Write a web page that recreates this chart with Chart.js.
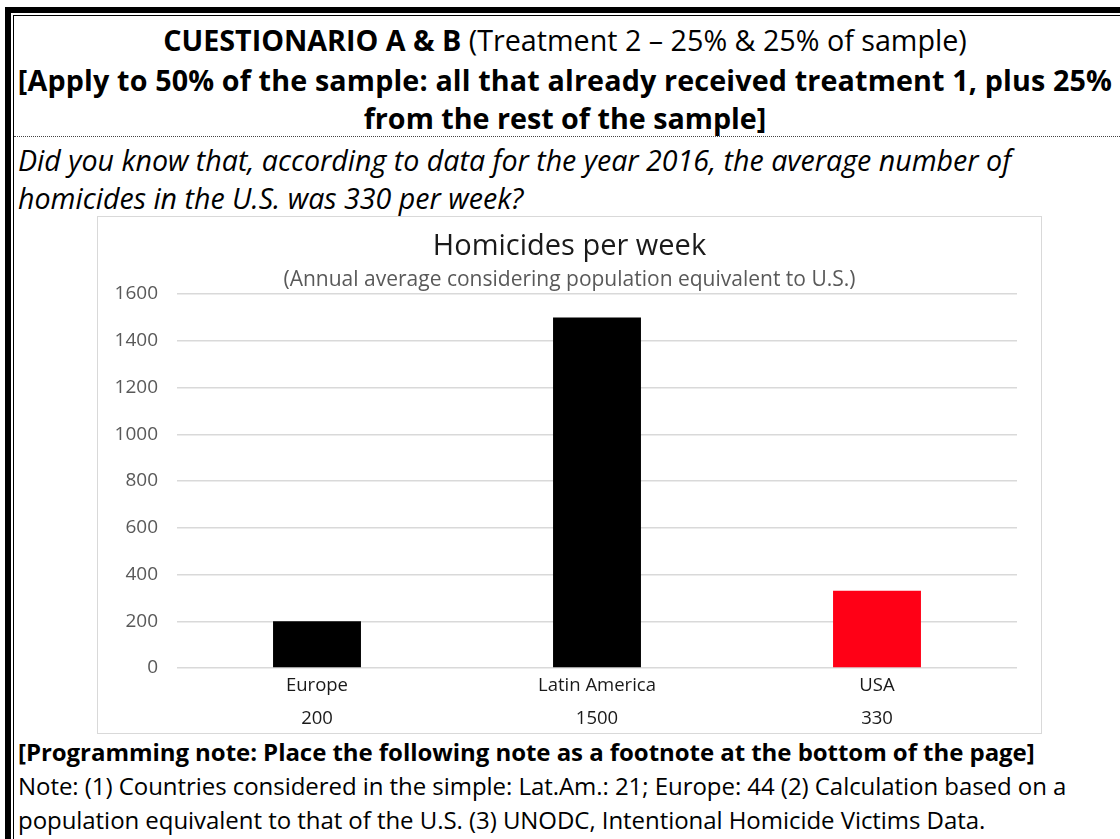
<!DOCTYPE html>
<html>
<head>
<meta charset="utf-8">
<title>Homicides per week</title>
<script src="https://cdn.jsdelivr.net/npm/chart.js@4.4.1/dist/chart.umd.min.js"></script>
<style>
    html, body {
        margin: 0;
        padding: 0;
        background: #ffffff;
        width: 1120px;
        height: 839px;
        overflow: hidden;
    }
    body {
        position: relative;
        font-family: 'Open Sans', 'Noto Sans', sans-serif;
        color: #000;
    }
    /* page frame: thick outer rule plus thin inner rule */
    .frame-outer {
        position: absolute;
        left: 5px;
        top: 7px;
        width: 1200px;
        height: 900px;
        border-left: 6px solid #000;
        border-top: 6px solid #000;
    }
    .frame-inner {
        position: absolute;
        left: 13px;
        top: 15px;
        width: 1200px;
        height: 900px;
        border-left: 1px solid #000;
        border-top: 1px solid #000;
    }
    .dotted {
        position: absolute;
        left: 14px;
        top: 136px;
        width: 1110px;
        border-top: 1px dotted #444;
    }
    .line {
        position: absolute;
        white-space: nowrap;
        line-height: 38px;
    }
    .center {
        left: 0;
        width: 1130px;
        text-align: center;
    }
    .left {
        left: 18px;
    }
    .hdr { font-size: 28.7px; letter-spacing: 0; }
    .it { font-size: 28.6px; font-style: italic; letter-spacing: 0; }
    .fn { font-size: 24px; line-height: 34px; letter-spacing: -0.05px; }
    b { font-weight: 700; }
    #chartBox {
        position: absolute;
        left: 97px;
        top: 216px;
        width: 943px;
        height: 516px;
        border: 1px solid #d9d9d9;
        background: #fff;
    }
</style>
</head>
<body>
<div class="frame-outer"></div>
<div class="frame-inner"></div>

<div class="line center hdr" style="top:21px"><b>CUESTIONARIO A &amp; B</b> (Treatment 2 – 25% &amp; 25% of sample)</div>
<div class="line center hdr" style="top:61px; letter-spacing:0.15px"><b>[Apply to 50% of the sample: all that already received treatment 1, plus 25%</b></div>
<div class="line center hdr" style="top:99px"><b>from the rest of the sample]</b></div>
<div class="dotted"></div>
<div class="line left it" style="top:141px">Did you know that, according to data for the year 2016, the average number of</div>
<div class="line left it" style="top:179px">homicides in the U.S. was 330 per week?</div>

<div id="chartBox"><canvas id="homicidesChart"></canvas></div>

<div class="line left fn" style="top:735px"><b>[Programming note: Place the following note as a footnote at the bottom of the page]</b></div>
<div class="line left fn" style="top:769px">Note: (1) Countries considered in the simple: Lat.Am.: 21; Europe: 44 (2) Calculation based on a</div>
<div class="line left fn" style="top:803px">population equivalent to that of the U.S. (3) UNODC, Intentional Homicide Victims Data.</div>

<script>
// Chart data
const regions = ['Europe', 'Latin America', 'USA'];
const homicidesPerWeek = [200, 1500, 330];
const barColors = ['#000000', '#000000', '#ff0016'];
const yTicks = [0, 200, 400, 600, 800, 1000, 1200, 1400, 1600];

Chart.defaults.font.family = "'Open Sans', 'Noto Sans', sans-serif";
Chart.defaults.color = '#595959';

// category label with the value row underneath (data table style)
const xLabels = regions.map((r, i) => [r, String(homicidesPerWeek[i])]);

const ctx = document.getElementById('homicidesChart');
new Chart(ctx, {
    type: 'bar',
    data: {
        labels: xLabels,
        datasets: [{
            label: 'Homicides per week',
            data: homicidesPerWeek,
            backgroundColor: barColors,
            borderWidth: 0,
            categoryPercentage: 1.0,
            barPercentage: 0.314
        }]
    },
    options: {
        responsive: true,
        maintainAspectRatio: false,
        animation: false,
        layout: {
            padding: 0
        },
        plugins: {
            legend: { display: false },
            tooltip: { enabled: false },
            title: {
                display: true,
                text: 'Homicides per week',
                color: '#1a1a1a',
                font: { size: 29, weight: 'normal' },
                padding: { top: 12.6, bottom: 0 }
            },
            subtitle: {
                display: true,
                text: '(Annual average considering population equivalent to U.S.)',
                color: '#595959',
                font: { size: 21 },
                padding: { top: 3, bottom: 1.4 }
            }
        },
        scales: {
            x: {
                grid: { display: false, drawTicks: false },
                border: { display: false },
                ticks: {
                    color: '#1a1a1a',
                    font: { size: 18.5, lineHeight: 1.78 },
                    padding: 1
                },
                afterFit: (scale) => { scale.height = 65; }
            },
            y: {
                min: 0,
                max: 1600,
                afterBuildTicks: (scale) => {
                    scale.ticks = yTicks.map(v => ({ value: v }));
                },
                grid: {
                    color: '#d9d9d9',
                    lineWidth: 1.5,
                    drawTicks: false
                },
                border: { display: false },
                ticks: {
                    color: '#595959',
                    font: { size: 19 },
                    padding: 19,
                    callback: (v) => String(v)
                },
                afterFit: (scale) => { scale.width = 79; }
            },
            // empty right-hand axis: only reserves the right margin so the
            // titles stay centred on the whole box
            yRight: {
                position: 'right',
                display: true,
                grid: { display: false, drawTicks: false },
                border: { display: false },
                ticks: { display: false },
                afterFit: (scale) => { scale.width = 24; }
            }
        }
    }
});
</script>
</body>
</html>
